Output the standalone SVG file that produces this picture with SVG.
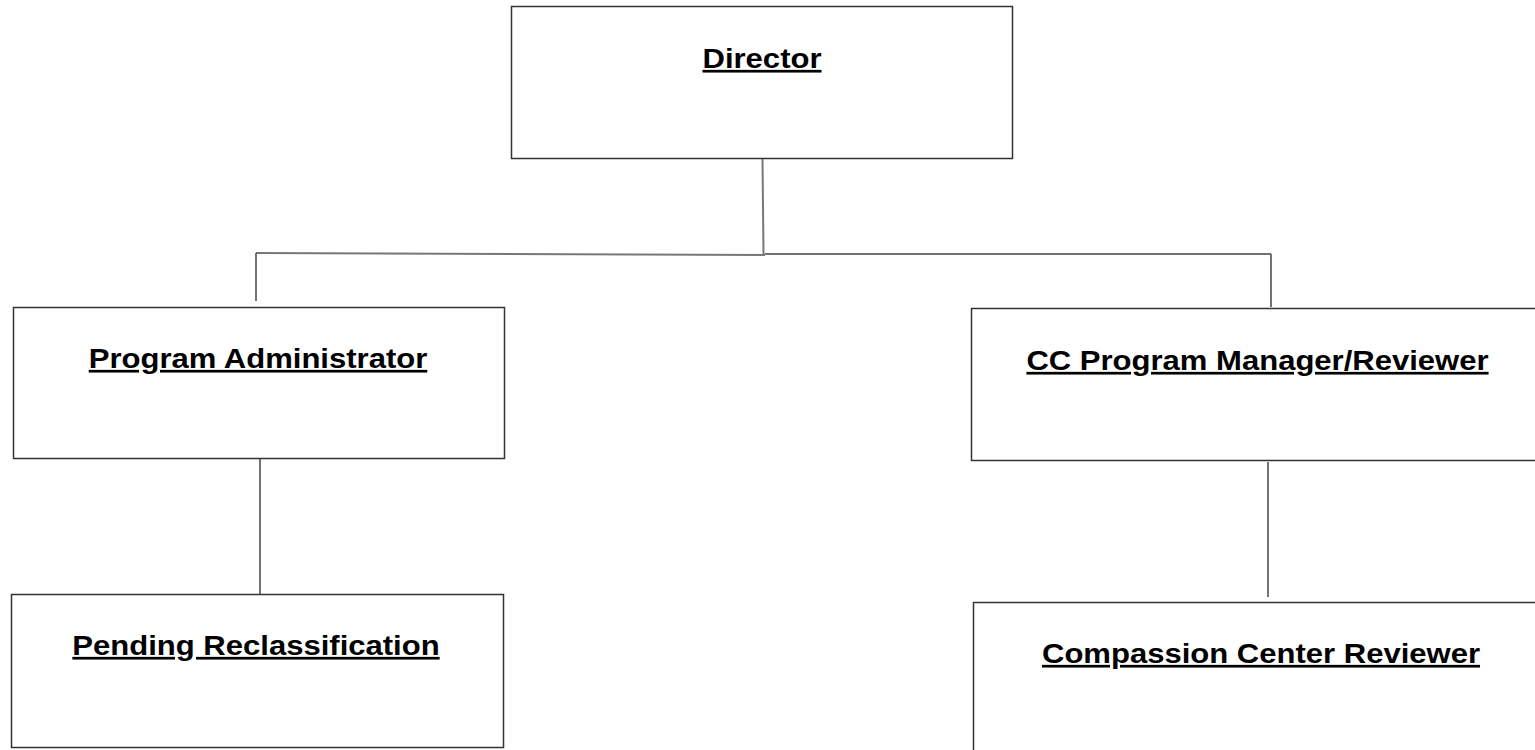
<svg xmlns="http://www.w3.org/2000/svg" width="1535" height="750" viewBox="0 0 1535 750">
<style>
.box{fill:#fff;stroke:#333;stroke-width:1.5}
.lbl{font-family:"Liberation Sans",Arial,sans-serif;font-weight:bold;font-size:27px;fill:#000;text-anchor:middle;text-decoration:underline}
.ln{fill:none;stroke:#444;stroke-width:1.5}
.lg{fill:none;stroke:#777;stroke-width:2}
</style>
<rect width="1535" height="750" fill="#fff"/>
<g id="connectors">
<line class="lg" x1="762.5" y1="159" x2="763.5" y2="254"/>
<polyline class="lg" points="256,253 765,255"/>
<line class="ln" x1="765" y1="254" x2="1271" y2="254"/>
<line class="ln" x1="256" y1="253" x2="256" y2="301"/>
<line class="ln" x1="1271" y1="254" x2="1271" y2="307"/>
<line class="ln" x1="260" y1="459" x2="260" y2="594"/>
<line class="ln" x1="1268" y1="462" x2="1268" y2="597"/>
</g>
<g id="director">
<rect class="box" x="511.5" y="6.5" width="501" height="152"/>
<text class="lbl" transform="translate(762 68) scale(1.15 1)">Director</text>
</g>
<g id="program-administrator">
<rect class="box" x="13.5" y="307.5" width="491" height="151"/>
<text class="lbl" transform="translate(258 368) scale(1.15 1)">Program Administrator</text>
</g>
<g id="cc-program-manager">
<rect class="box" x="971.5" y="308.5" width="570" height="152"/>
<text class="lbl" transform="translate(1257.5 370) scale(1.15 1)">CC Program Manager/Reviewer</text>
</g>
<g id="pending-reclassification">
<rect class="box" x="11.5" y="594.5" width="492" height="153"/>
<text class="lbl" transform="translate(256 655) scale(1.15 1)">Pending Reclassification</text>
</g>
<g id="compassion-center-reviewer">
<rect class="box" x="973.5" y="602.5" width="570" height="160"/>
<text class="lbl" transform="translate(1261 663) scale(1.15 1)">Compassion Center Reviewer</text>
</g>
</svg>
